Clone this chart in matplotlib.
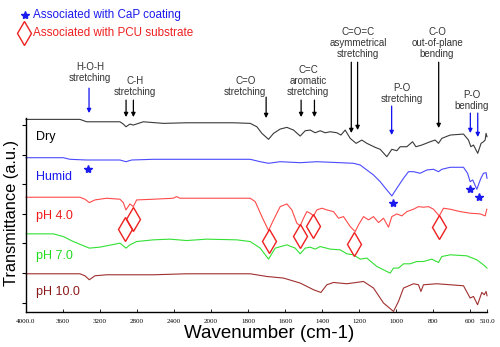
import numpy as np
import matplotlib
matplotlib.use("Agg")
import matplotlib.pyplot as plt
from matplotlib.lines import Line2D

plt.rcParams['font.family'] = ['Liberation Sans', 'DejaVu Sans']

# ---------------- data (wavenumber cm-1, transmittance a.u.) ----------------
dry_w = [4000, 3417, 3345, 2985, 2949, 2920, 2877, 2841, 2733, 2517, 2265, 2049, 1880,
         1789, 1753, 1726, 1690, 1663, 1627, 1591, 1555, 1519, 1492, 1465, 1438, 1411,
         1384, 1357, 1321, 1299, 1276, 1249, 1217, 1186, 1159, 1114, 1087, 1051, 1024,
         997, 979, 943, 912, 894, 862, 817, 790, 772, 754, 709, 637, 610, 597, 583, 560,
         542, 529, 520, 515, 510]
dry_t = [192.7, 192.7, 190.3, 190.3, 188, 185.3, 188, 187, 190.3, 188.7, 189.3, 189.3, 189.3,
         188.7, 185.3, 178.7, 172.7, 178.7, 183, 184.7, 182, 176, 181.3, 182, 179.3, 181.3,
         179.3, 180.3, 179.3, 177, 182, 173.7, 168.7, 172, 168.7, 164.7, 162.7, 155.3, 162.7,
         161.3, 165.3, 165.3, 170.3, 165.3, 167, 170.3, 172, 168.7, 173.7, 177, 178, 172, 165.3,
         167, 158.7, 168.7, 170.3, 172, 178.7, 175.3]

humid_w = [4000, 3597, 3525, 3345, 2985, 2920, 2859, 2625, 2265, 1952, 1789, 1735, 1690,
           1627, 1519, 1429, 1303, 1231, 1195, 1159, 1123, 1087, 1051, 1024, 997, 961, 934,
           907, 871, 835, 799, 772, 754, 709, 637, 615, 601, 587, 565, 543, 529, 515, 510]
humid_t = [154.3, 154.3, 152.7, 152, 152, 150.3, 152, 152.7, 152.7, 152.7, 152.7, 150.3, 148.7,
           150.3, 149.3, 150.3, 149.3, 148.7, 147, 142, 137, 130.3, 122, 116, 123.7, 133.7, 140.3,
           140.3, 138.7, 142, 142.7, 140.3, 142.7, 144.7, 144.7, 138.7, 130.3, 132, 122.7, 133.7,
           138.7, 139.3, 133.7]

ph4_w = [4000, 3417, 3363, 3316, 3255, 3129, 2985, 2949, 2920, 2877, 2841, 2805, 2625, 2409,
         2373, 2337, 2121, 1952, 1789, 1762, 1726, 1690, 1663, 1627, 1591, 1564, 1537, 1519,
         1501, 1483, 1465, 1447, 1429, 1402, 1375, 1339, 1312, 1285, 1249, 1222, 1204, 1177,
         1150, 1123, 1096, 1069, 1042, 1024, 997, 970, 943, 907, 880, 853, 826, 799, 768, 745,
         709, 655, 601, 547, 520, 511]
ph4_t = [114.7, 114.7, 112.7, 109.3, 112, 113.7, 112.7, 109.3, 102, 108, 105.3, 112, 112.7, 113.7,
         115.3, 113.7, 113.7, 113.7, 113.7, 110.3, 95.3, 81.3, 92, 105.3, 108, 102, 88.7, 86,
         93.7, 100.3, 98.7, 96, 102, 103.7, 102, 100.3, 93.7, 95.3, 85.3, 80.3, 87, 95.3,
         92, 95.3, 89.3, 93.7, 84.7, 95.3, 98, 96, 100.3, 102.7, 105.3, 104.7, 105.3, 102.7, 96, 103.7,
         102.7, 100.3, 98.7, 98, 96, 102.7]

ph7_w = [4000, 3705, 3597, 3489, 3316, 3201, 2985, 2920, 2877, 2805, 2625, 2445, 2265, 2049,
         1862, 1789, 1735, 1690, 1654, 1591, 1546, 1519, 1492, 1465, 1438, 1411, 1357, 1303,
         1267, 1231, 1195, 1159, 1105, 1051, 1033, 1015, 988, 961, 925, 889, 853, 808, 772,
         754, 709, 619, 565, 529, 510]
ph7_t = [78, 78, 75.3, 70.3, 63.7, 64.7, 68.7, 63.7, 67, 70.3, 72, 72.7, 71.3, 72.7,
         72, 70.3, 63.7, 52.7, 63.7, 67, 63.7, 58, 63.7, 64.7, 62.7, 65.3, 62.7, 62,
         58, 57, 52.7, 53.7, 45.3, 40.3, 38.7, 43.7, 43.7, 48, 48, 50.3, 50.3, 52.7, 49.3,
         55.3, 57, 56, 52, 47, 43.7]

ph10_w = [4000, 3417, 3363, 3316, 3255, 3129, 2985, 2625, 2265, 1952, 1789, 1699, 1609, 1519,
          1447, 1407, 1375, 1339, 1267, 1177, 1123, 1069, 1015, 988, 961, 907, 880, 867, 853,
          781, 709, 637, 601, 583, 561, 538, 525, 515, 510]
ph10_t = [38, 38, 36, 32, 36, 37, 37, 37, 38, 38, 38, 35.3, 33.7, 28.7,
          22, 19.3, 27, 29.3, 28, 30.3, 23.7, 8.7, 0.3, 10.3, 23.7, 28, 27, 20.3, 27,
          28, 27, 26, 13.7, 15.3, 7, 19.3, 17, 20.3, 16]

series_names = ["Dry", "Humid", "pH 4.0", "pH 7.0", "pH 10.0"]
label_t = [175, 135, 96, 56, 19.3]

x_ticks = [4000, 3600, 3200, 2800, 2400, 2000, 1800, 1600, 1400, 1200, 1000, 800, 600, 510]
x_ticklabels = ["4000.0", "3600", "3200", "2800", "2400", "2000", "1800", "1600", "1400",
                "1200", "1000", "800", "600", "510.0"]

# CaP (star) and PCU (diamond) marker positions
star_w = [3333, 1020, 604, 555]
star_t = [142.7, 109.3, 122.7, 115.3]
diamond_w = [2930, 2840, 1686, 1519, 1450, 1231, 771]
diamond_t = [82.7, 92.7, 71.3, 76, 86, 68, 84.7]

# annotations: text, text wavenumber, text height, arrow wavenumbers, arrow tips, arrow tail, colour
annotations = [
    ("H-O-H\nstretching", 3308, 240, [3319], [199], 224, "#1010ee"),
    ("C-H\nstretching", 2822, 226, [2919, 2840], [195, 195], 212, "black"),
    ("C=O\nstretching", 1816, 226, [1703], [194], 215, "black"),
    ("C=C\naromatic\nstretching", 1476, 231, [1514, 1442], [195, 195], 212, "black"),
    ("C=O=C\nasymmetrical\nstretching", 1205, 269, [1243, 1209], [179, 182], 250, "black"),
    ("P-O\nstretching", 969, 219, [1025], [177], 206, "#1010ee"),
    ("C-O\nout-of-plane\nbending", 780, 269, [771], [184], 250, "black"),
    ("P-O\nbending", 592, 212, [600, 560], [179, 175], 199, "#1010ee"),
]

line_colors = ["#3a3a3a", "#4a4aff", "#ff4a4a", "#33e033", "#a03030"]
label_colors = ["black", "#1a1aee", "#ee1a1a", "#22dd22", "#8b1a1a"]

# ---------------- scale with break at 2000 cm-1 ----------------
def fwd(w):
    w = np.asarray(w, dtype=float)
    return np.where(w >= 2000, w, 2 * w - 2000)

def inv(u):
    u = np.asarray(u, dtype=float)
    return np.where(u >= 2000, u, (u + 2000) / 2)

fig = plt.figure(figsize=(5.0, 3.47), dpi=100)
ax = fig.add_axes([0.052, 0.1017, 0.922, 0.558])
ax.set_xscale('function', functions=(fwd, inv))

all_w = [dry_w, humid_w, ph4_w, ph7_w, ph10_w]
all_t = [dry_t, humid_t, ph4_t, ph7_t, ph10_t]
for w, t, c in zip(all_w, all_t, line_colors):
    ax.plot(w, t, color=c, lw=0.8, clip_on=False)

for name, lt, c in zip(series_names, label_t, label_colors):
    ax.text(3890, lt, name, color=c, fontsize=9, va='center', ha='left')

ax.plot(star_w, star_t, ls='none', marker='*', ms=6, color='#1a1aee', clip_on=False)
ax.plot(diamond_w, diamond_t, ls='none', marker='d', ms=12, mfc='none',
        mec='#ee2020', mew=1.0, clip_on=False)

for txt, tw, th, aw, atip, atail, ac in annotations:
    ax.text(tw, th, txt, ha='center', va='center', fontsize=7, color='#333333',
            linespacing=1.15, clip_on=False)
    for w0, tip in zip(aw, atip):
        ax.annotate('', xy=(w0, tip), xytext=(w0, atail), xycoords='data',
                    textcoords='data', annotation_clip=False,
                    arrowprops=dict(arrowstyle='-|>', color=ac, lw=0.9,
                                    mutation_scale=6, shrinkA=0, shrinkB=0))

ax.set_xlim(4000, 510)
ax.set_ylim(0, 194)
ax.set_xticks(x_ticks)
ax.set_xticklabels(x_ticklabels, fontsize=5, family=['Liberation Serif', 'DejaVu Serif'])
ax.xaxis.set_minor_locator(matplotlib.ticker.NullLocator())
ax.set_yticks([9, 38.7, 68.4, 98.1, 127.8, 157.5, 187.2])
ax.set_yticklabels([])
ax.tick_params(axis='x', direction='in', length=2, width=0.6, pad=5)
ax.tick_params(axis='y', direction='out', length=3, width=0.8)
for s in ['top', 'right']:
    ax.spines[s].set_visible(False)
for s in ['left', 'bottom']:
    ax.spines[s].set_linewidth(1.0)

fig.text(0.538, 0.04, "Wavenumber (cm-1)", fontsize=13.5, ha='center', va='center')
fig.text(0.024, 0.385, "Transmittance (a.u.)", fontsize=11.8, rotation=90,
         ha='center', va='center')

# legend-like notes
fig.add_artist(Line2D([0.05], [0.957], marker='*', ms=6, color='#1a1aee', ls='none'))
fig.text(0.066, 0.957, "Associated with CaP coating", color='#1a1aee', fontsize=8.4,
         va='center', ha='left')
fig.add_artist(Line2D([0.048], [0.905], marker='d', ms=12, mfc='none', mec='#ee2020',
                      mew=1.0, ls='none'))
fig.text(0.066, 0.905, "Associated with PCU substrate", color='#ee2020', fontsize=8.4,
         va='center', ha='left')

fig.savefig("out.png", dpi=100)
